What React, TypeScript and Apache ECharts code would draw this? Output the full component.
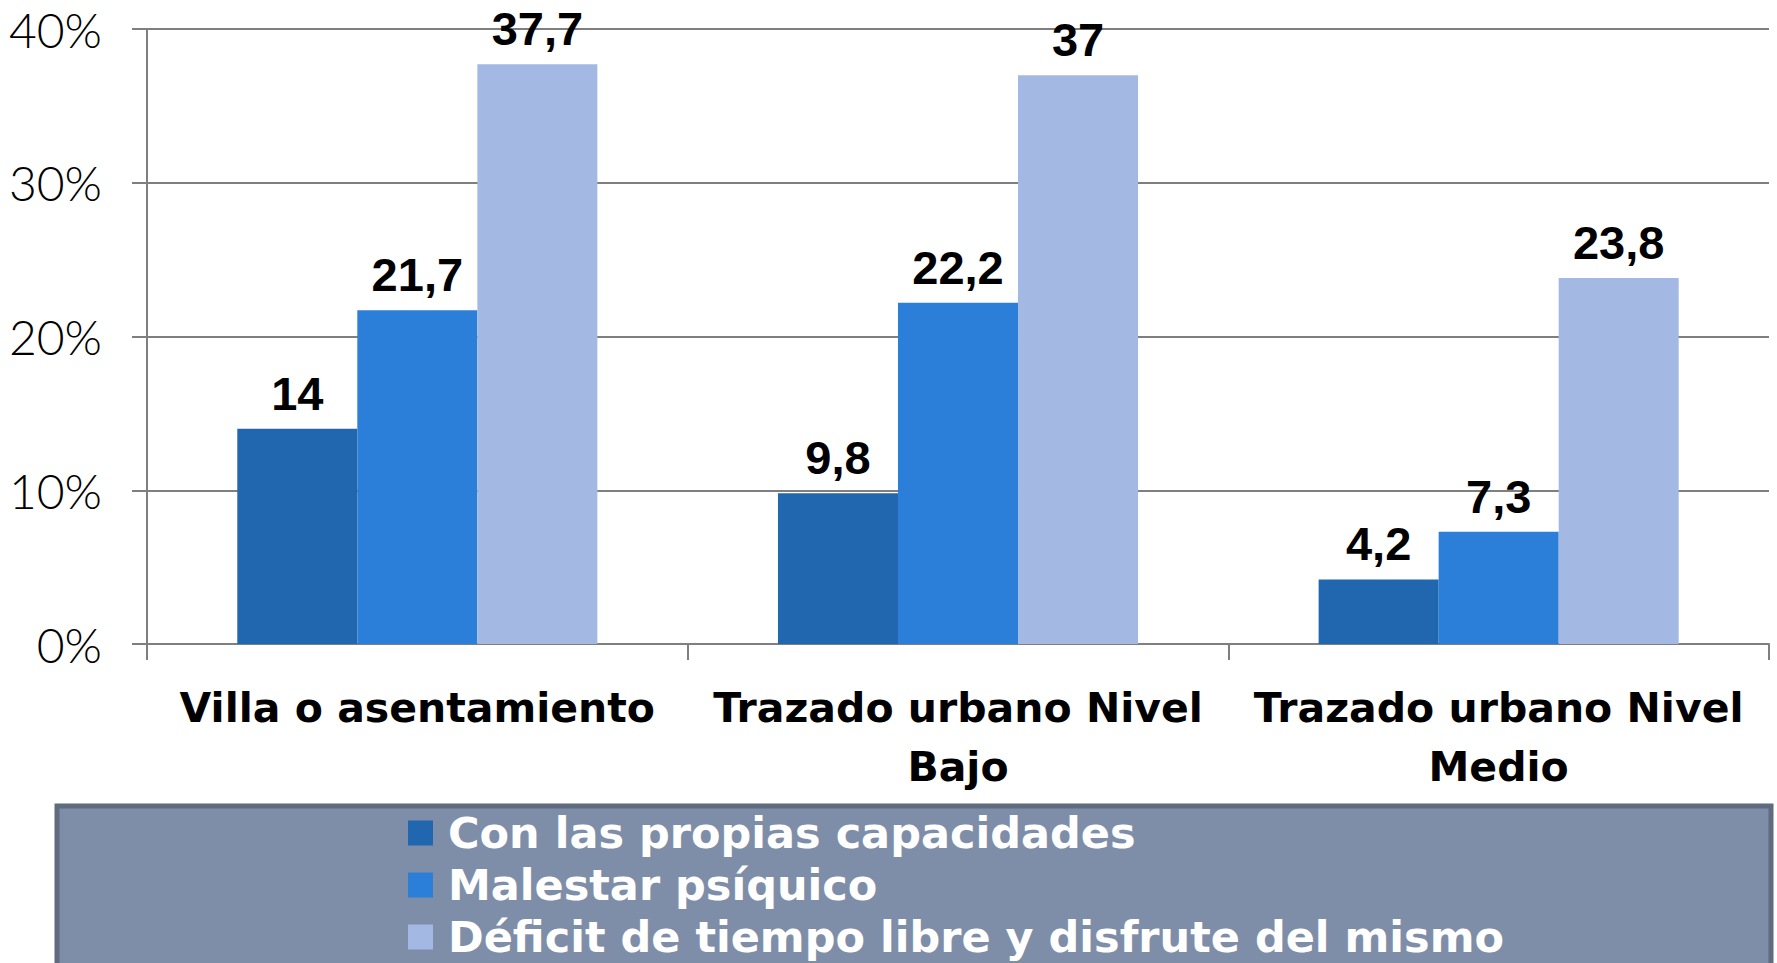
import React, { useEffect, useRef } from "react";
import * as echarts from "echarts";

const categories = [
  "Villa o asentamiento",
  "Trazado urbano Nivel\nBajo",
  "Trazado urbano Nivel\nMedio",
];
const seriesNames = [
  "Con las propias capacidades",
  "Malestar psíquico",
  "Déficit de tiempo libre y disfrute del mismo",
];
const propiasCapacidades = [14, 9.8, 4.2];
const malestarPsiquico = [21.7, 22.2, 7.3];
const deficitTiempoLibre = [37.7, 37, 23.8];
const seriesColors = ["#2167b0", "#2b7fd8", "#a3b9e4"];
const yTicks = { min: 0, max: 40, interval: 10 };

export default function App() {
  const ref = useRef<HTMLDivElement>(null);
  useEffect(() => {
    if (!ref.current) return;
    const chart = echarts.init(ref.current, null, { renderer: "svg" });
    const data = [propiasCapacidades, malestarPsiquico, deficitTiempoLibre];
    chart.setOption({
      animation: false,
      backgroundColor: "#ffffff",
      graphic: [
        {
          type: "rect",
          z: -10,
          shape: { x: 57, y: 806, width: 1714, height: 180 },
          style: { fill: "#7f8ea8", stroke: "#5f6b7f", lineWidth: 5 },
        },
      ],
      grid: { left: 147, right: 8, top: 29, bottom: 319, containLabel: false },
      legend: {
        orient: "vertical",
        left: 408,
        top: 807,
        height: 300,
        padding: 0,
        itemWidth: 25,
        itemHeight: 25,
        itemGap: 0,
        icon: "rect",
        data: seriesNames,
        textStyle: {
          color: "#ffffff",
          fontFamily: "DejaVu Sans",
          fontWeight: "bold",
          fontSize: 43,
          lineHeight: 52,
          padding: [0, 0, 0, 10],
        },
      },
      xAxis: {
        type: "category",
        data: categories,
        axisLine: { lineStyle: { color: "#7f7f7f", width: 2 } },
        axisTick: { show: true, length: 16, lineStyle: { color: "#7f7f7f", width: 2 } },
        axisLabel: {
          interval: 0,
          margin: 34,
          color: "#000000",
          fontFamily: "DejaVu Sans",
          fontWeight: "bold",
          fontSize: 41,
          lineHeight: 59,
        },
      },
      yAxis: {
        type: "value",
        min: yTicks.min,
        max: yTicks.max,
        interval: yTicks.interval,
        axisLine: { show: true, lineStyle: { color: "#7f7f7f", width: 2 } },
        axisTick: { show: true, length: 15, lineStyle: { color: "#7f7f7f", width: 2 } },
        splitLine: { lineStyle: { color: "#7f7f7f", width: 2 } },
        axisLabel: {
          formatter: "{value}%",
          margin: 45,
          color: "#000000",
          fontFamily: "Lato",
          fontWeight: 300,
          fontSize: 48,
        },
      },
      series: seriesNames.map((name, i) => ({
        name,
        type: "bar",
        data: data[i],
        barGap: "0%",
        barCategoryGap: "33.4%",
        itemStyle: { color: seriesColors[i] },
        label: {
          show: true,
          position: "top",
          distance: 12,
          color: "#000000",
          fontFamily: "Liberation Sans",
          fontWeight: "bold",
          fontSize: 47,
          formatter: (p: any) => String(p.value).replace(".", ","),
        },
      })),
    });
    return () => chart.dispose();
  }, []);
  return (
    <div
      ref={ref}
      style={{ position: "fixed", left: 0, top: 0, width: 1777, height: 963 }}
    />
  );
}
